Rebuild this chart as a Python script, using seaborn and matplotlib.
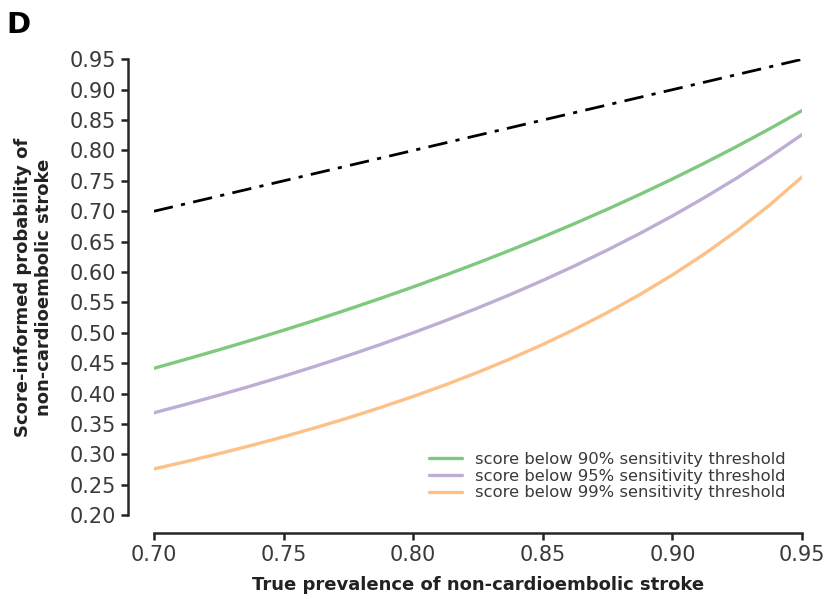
import numpy as np
import pandas as pd
import matplotlib
matplotlib.use("Agg")
import matplotlib.pyplot as plt
import seaborn as sns

# True prevalence of non-cardioembolic stroke
prevalence = [0.7000, 0.7125, 0.7250, 0.7375, 0.7500, 0.7625, 0.7750, 0.7875,
              0.8000, 0.8125, 0.8250, 0.8375, 0.8500, 0.8625, 0.8750, 0.8875,
              0.9000, 0.9125, 0.9250, 0.9375, 0.9500]

# Score-informed probability for each sensitivity threshold
below_90 = [0.4416, 0.4566, 0.4719, 0.4878, 0.5042, 0.5211, 0.5387, 0.5568,
            0.5755, 0.5950, 0.6151, 0.6360, 0.6576, 0.6801, 0.7035, 0.7278,
            0.7531, 0.7795, 0.8070, 0.8357, 0.8656]
below_95 = [0.3684, 0.3825, 0.3973, 0.4126, 0.4286, 0.4453, 0.4627, 0.4809,
            0.5000, 0.5200, 0.5410, 0.5630, 0.5862, 0.6106, 0.6364, 0.6636,
            0.6923, 0.7228, 0.7551, 0.7895, 0.8261]
below_99 = [0.2760, 0.2882, 0.3011, 0.3146, 0.3289, 0.3441, 0.3601, 0.3772,
            0.3953, 0.4145, 0.4351, 0.4572, 0.4808, 0.5062, 0.5335, 0.5631,
            0.5952, 0.6302, 0.6684, 0.7102, 0.7564]

series_labels = ["score below 90% sensitivity threshold",
                 "score below 95% sensitivity threshold",
                 "score below 99% sensitivity threshold"]
line_colors = ["#7fc97f", "#beaed4", "#fdc086"]

x_ticks = [0.70, 0.75, 0.80, 0.85, 0.90, 0.95]
y_ticks = [0.20, 0.25, 0.30, 0.35, 0.40, 0.45, 0.50, 0.55, 0.60, 0.65,
           0.70, 0.75, 0.80, 0.85, 0.90, 0.95]

sns.set_theme(style="ticks")
plt.rcParams["font.family"] = ["DejaVu Sans"]
plt.rcParams["axes.linewidth"] = 1.8
plt.rcParams["xtick.major.width"] = 1.8
plt.rcParams["ytick.major.width"] = 1.8
plt.rcParams["xtick.major.size"] = 5
plt.rcParams["ytick.major.size"] = 5

df = pd.DataFrame({
    "prevalence": prevalence * 3,
    "probability": below_90 + below_95 + below_99,
    "group": [series_labels[0]] * len(prevalence)
             + [series_labels[1]] * len(prevalence)
             + [series_labels[2]] * len(prevalence),
})

fig = plt.figure(figsize=(8.32, 5.99), dpi=100)
ax = fig.add_axes([0.185, 0.140, 0.779, 0.761])

# identity reference: probability equal to prevalence
ref = pd.DataFrame({"prevalence": prevalence, "probability": prevalence})
sns.lineplot(data=ref, x="prevalence", y="probability", ax=ax,
             color="black", linestyle=(0, (7, 3, 1.5, 3)), linewidth=2.0,
             legend=False)

sns.lineplot(data=df, x="prevalence", y="probability", hue="group",
             hue_order=series_labels, palette=line_colors, linewidth=2.4, ax=ax)

ax.set_xlim(0.70, 0.95)
ax.set_ylim(0.20, 0.95)
ax.set_xticks(x_ticks)
ax.set_yticks(y_ticks)
ax.set_xticklabels([f"{v:.2f}" for v in x_ticks])
ax.set_yticklabels([f"{v:.2f}" for v in y_ticks])
ax.tick_params(axis="both", labelsize=15, colors="#222222", labelcolor="#3a3a3a")

ax.set_xlabel("True prevalence of non-cardioembolic stroke",
              fontsize=13, fontweight="bold", color="#222222", labelpad=8)
ax.set_ylabel("Score-informed probability of\nnon-cardioembolic stroke",
              fontsize=13, fontweight="bold", color="#222222", labelpad=12)

sns.despine(ax=ax, offset={"left": 19, "bottom": 13}, trim=True)

leg = ax.legend(loc="lower right", frameon=False, fontsize=11.8,
                handlelength=2.0, handletextpad=0.8, labelspacing=0.1,
                bbox_to_anchor=(0.997, 0.0))
for t in leg.get_texts():
    t.set_color("#3a3a3a")
for h in leg.get_lines():
    h.set_linewidth(2.4)

fig.text(0.008, 0.945, "D", fontsize=21, fontweight="bold", color="black")

fig.savefig("out.png", dpi=100, facecolor="white")
